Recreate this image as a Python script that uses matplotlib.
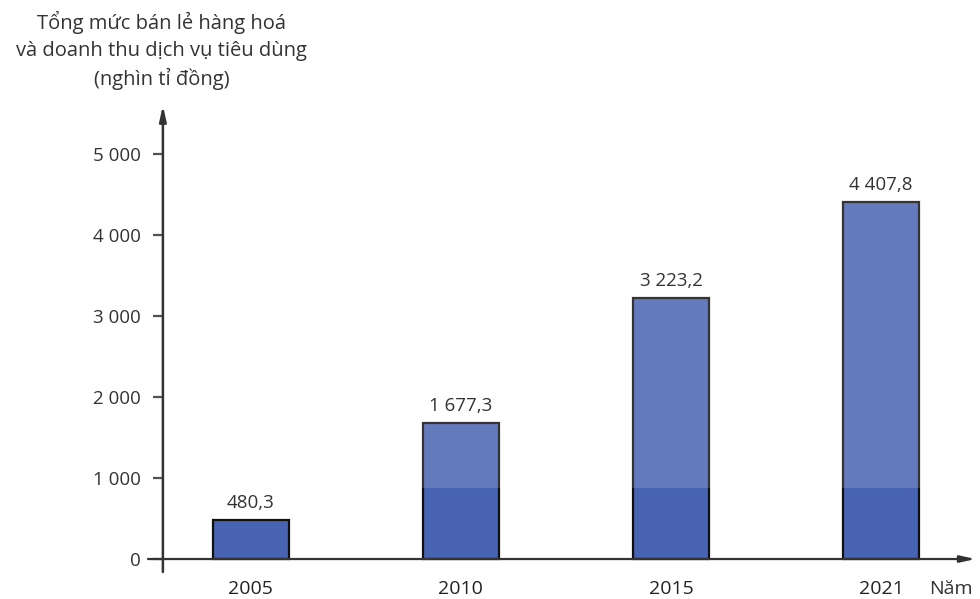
import numpy as np
import matplotlib.pyplot as plt

plt.rcParams['font.family'] = ['Open Sans', 'DejaVu Sans']

years = ["2005", "2010", "2015", "2021"]
values = [480.3, 1677.3, 3223.2, 4407.8]
y_ticks = [0, 1000, 2000, 3000, 4000, 5000]


def fmt(v, decimals=1):
    s = f"{v:,.{decimals}f}"
    return s.replace(",", " ").replace(".", ",")


fig = plt.figure(figsize=(9.8, 5.99), dpi=100)
ax = fig.add_axes([0.151, 0.0451, 0.847, 0.779])

x = np.arange(len(years))
bar_color = "#4863b2"
ax.bar(x, values, width=0.362, color=bar_color, edgecolor="#111111",
       linewidth=1.6, zorder=2)

# nhãn giá trị trên cột
for xi, v in zip(x, values):
    ax.annotate(fmt(v), (xi, v), xytext=(0, 6), textcoords="offset points",
                ha="center", va="bottom", fontsize=13.5, color="#333333", zorder=3)

ax.set_xlim(-0.49, 3.462)
ax.set_ylim(-160, 5600)
y_axis_x = -0.419

# trục
ax.spines[["top", "right", "left", "bottom"]].set_visible(False)
ax.spines["left"].set_position(("data", y_axis_x))
ax.spines["bottom"].set_position(("data", 0))
ax.annotate("", xy=(y_axis_x, 5600), xytext=(y_axis_x, -160),
            arrowprops=dict(arrowstyle="-|>,head_length=0.9,head_width=0.2",
                            lw=1.8, color="#333333", shrinkA=0, shrinkB=0))
ax.annotate("", xy=(3.45, 0), xytext=(-0.49, 0),
            arrowprops=dict(arrowstyle="-|>,head_length=0.9,head_width=0.2",
                            lw=1.6, color="#333333", shrinkA=0, shrinkB=0))

ax.set_yticks(y_ticks)
ax.set_yticklabels([fmt(t, 0) for t in y_ticks])
ax.tick_params(axis="y", direction="out", length=7, width=1.6, color="#333333",
               labelsize=13.5, labelcolor="#333333", pad=9)
ax.set_xticks(x)
ax.set_xticklabels(years)
ax.tick_params(axis="x", length=0, labelsize=14, labelcolor="#222222", pad=15)

ax.annotate("Năm", (3.229, 0), xytext=(0, -15), textcoords="offset points",
            ha="left", va="top", fontsize=14, color="#333333")

fig.text(0.165, 0.982, "Tổng mức bán lẻ hàng hoá\nvà doanh thu dịch vụ tiêu dùng\n(nghìn tỉ đồng)",
         ha="center", va="top", fontsize=14.5, color="#333333", linespacing=1.45)

# lớp sáng phía trên (giống ảnh gốc)
ax.axhspan(880, 5600, color="white", alpha=0.15, zorder=2.5, lw=0)

fig.savefig("out.png", dpi=100)
